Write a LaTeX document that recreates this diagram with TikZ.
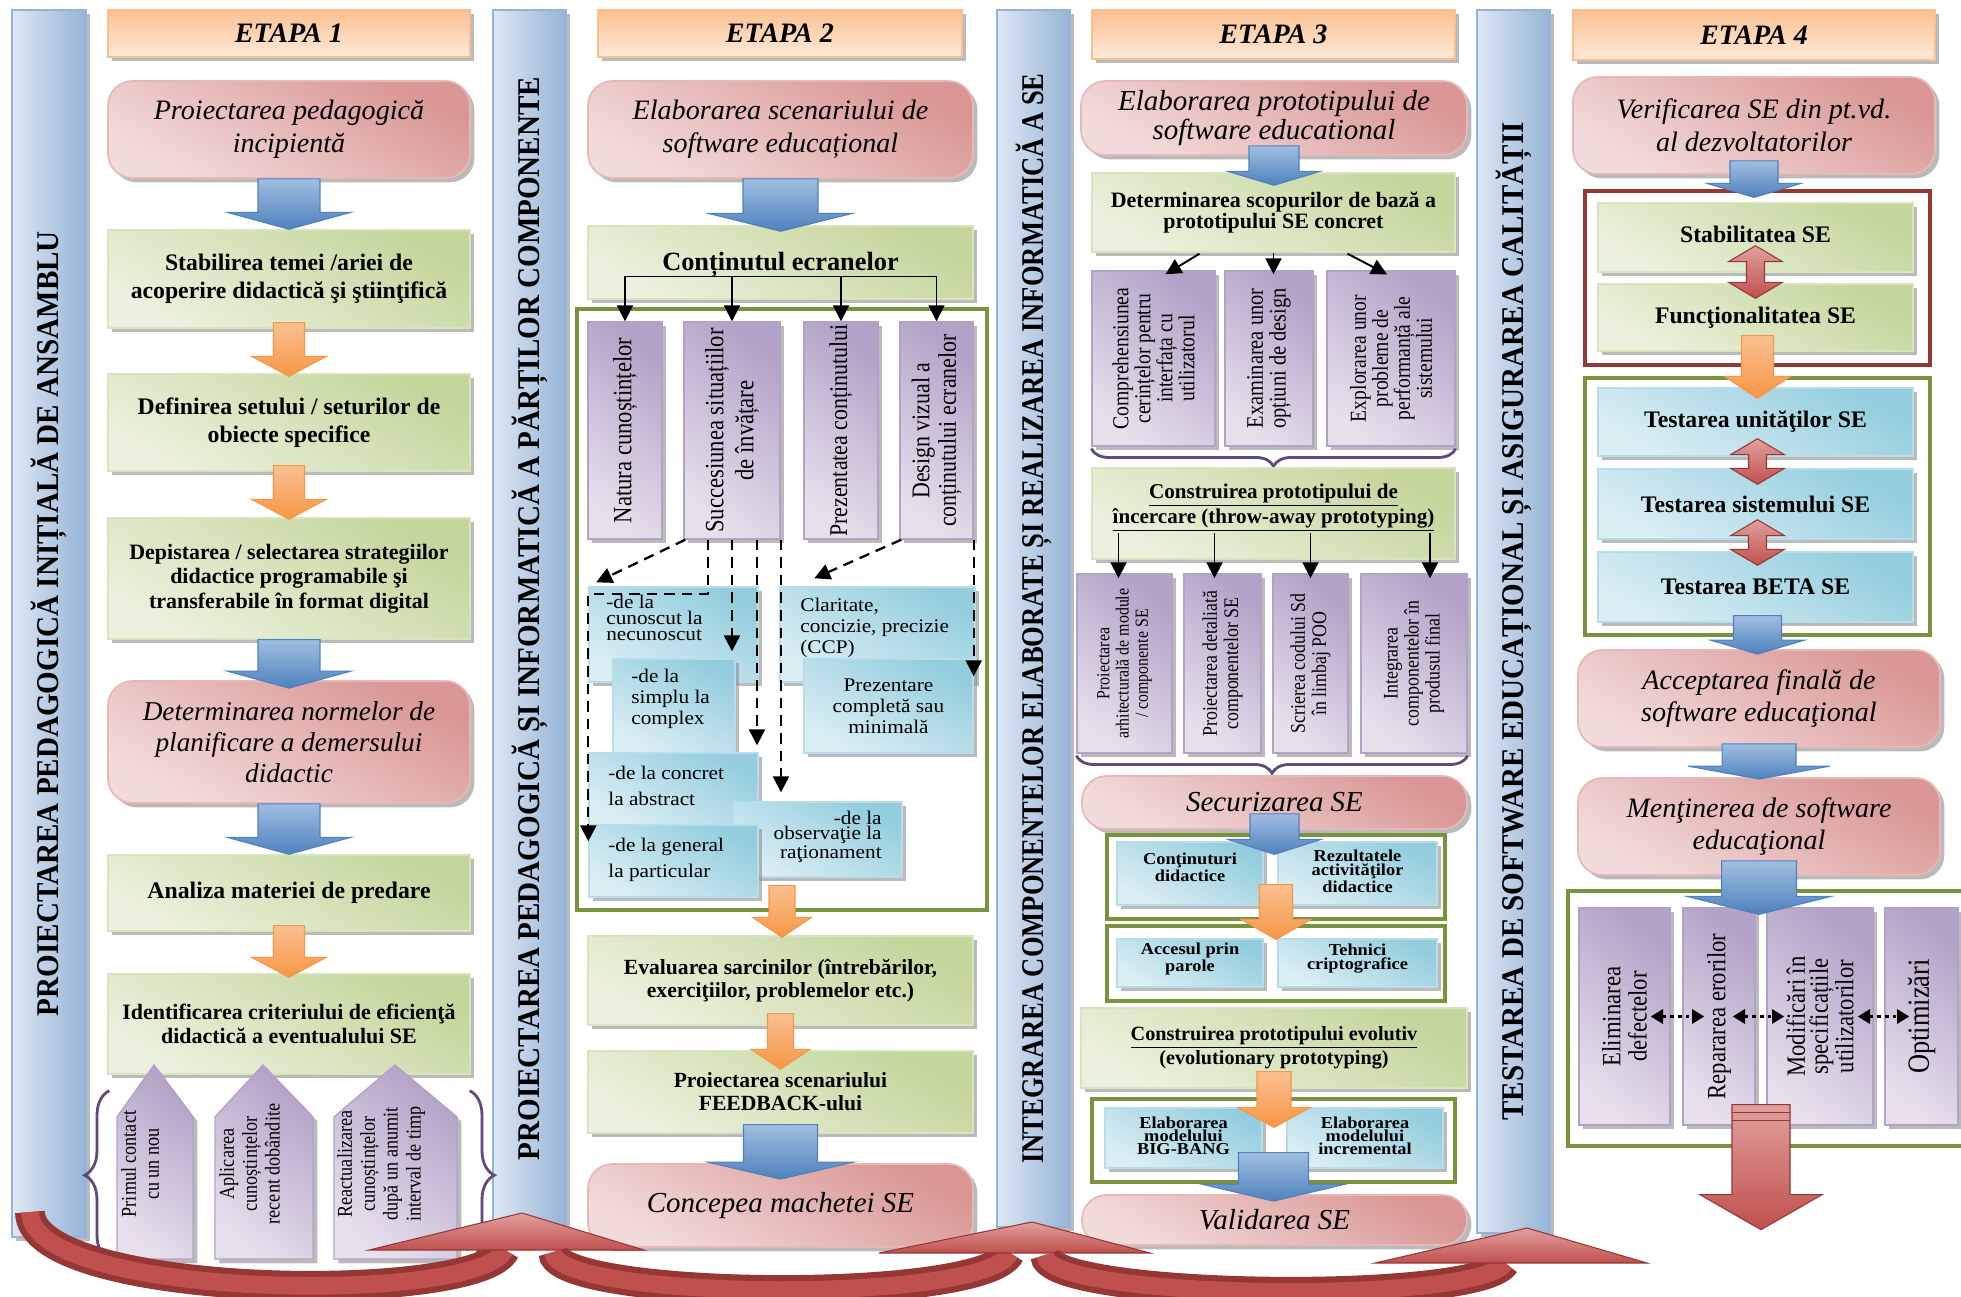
\documentclass[tikz,border=0pt]{standalone}
\usepackage{fontspec}
\usepackage{graphicx}
\setmainfont{Liberation Serif}
\newfontfamily\condfont[FakeStretch=0.86]{Liberation Serif}
\newfontfamily\widefont[FakeStretch=1.1]{Liberation Serif}
\usetikzlibrary{positioning,arrows.meta,calc,fit,shadows,decorations.pathreplacing}

\definecolor{barL}{RGB}{222,231,243}
\definecolor{barD}{RGB}{149,179,215}
\definecolor{etaL}{RGB}{253,234,218}
\definecolor{etaD}{RGB}{250,192,144}
\definecolor{etaB}{RGB}{250,191,143}
\definecolor{pinkL}{RGB}{242,220,219}
\definecolor{pinkD}{RGB}{217,150,148}
\definecolor{pinkB}{RGB}{230,185,184}
\definecolor{grL}{RGB}{235,241,222}
\definecolor{grD}{RGB}{195,214,155}
\definecolor{grB}{RGB}{215,228,189}
\definecolor{vioL}{RGB}{230,224,236}
\definecolor{vioD}{RGB}{179,162,199}
\definecolor{cyL}{RGB}{219,238,244}
\definecolor{cyD}{RGB}{147,205,221}
\definecolor{cyB}{RGB}{183,222,232}
\definecolor{frG}{RGB}{119,147,60}
\definecolor{frR}{RGB}{149,55,53}
\definecolor{bluA}{RGB}{79,129,189}
\definecolor{bluL}{RGB}{160,190,225}
\definecolor{orA}{RGB}{247,150,70}
\definecolor{orL}{RGB}{250,192,144}
\definecolor{redA}{RGB}{192,80,77}
\definecolor{redL}{RGB}{225,160,158}
\definecolor{redD}{RGB}{149,55,53}
\definecolor{braceC}{RGB}{96,74,123}

\newcommand{\pxu}{0.56906pt}
% fat block arrow: style, start, tip, half shaft, half head, head length (px)
\newcommand{\fatarrow}[6]{%
  \path[#1] let \p1=#2, \p2=#3 in
    (\x1-#4*\pxu,\y1) -- (\x1+#4*\pxu,\y1) -- (\x1+#4*\pxu,\y2+#6*\pxu)
    -- (\x1+#5*\pxu,\y2+#6*\pxu) -- (\x1,\y2) -- (\x1-#5*\pxu,\y2+#6*\pxu)
    -- (\x1-#4*\pxu,\y2+#6*\pxu) -- cycle;}
\newcommand{\fatdouble}[6]{%
  \path[#1] let \p1=#2, \p2=#3 in
    (\x1,\y1) -- (\x1+#5*\pxu,\y1-#6*\pxu) -- (\x1+#4*\pxu,\y1-#6*\pxu)
    -- (\x1+#4*\pxu,\y2+#6*\pxu) -- (\x1+#5*\pxu,\y2+#6*\pxu) -- (\x1,\y2)
    -- (\x1-#5*\pxu,\y2+#6*\pxu) -- (\x1-#4*\pxu,\y2+#6*\pxu)
    -- (\x1-#4*\pxu,\y1-#6*\pxu) -- (\x1-#5*\pxu,\y1-#6*\pxu) -- cycle;}

\tikzset{
  shad/.style={drop shadow={shadow xshift=2.5pt, shadow yshift=-2.5pt, fill=black!45, opacity=.6}},
  sidebar/.style={draw=barD, line width=0.8pt, left color=barL, right color=barD, inner sep=0pt, shad},
  bartext/.style={rotate=90, inner sep=0pt, font=\fontsize{18}{20}\selectfont\bfseries},
  etapa/.style={draw=etaB, line width=0.6pt, top color=etaD, bottom color=etaL, inner sep=0pt, shad},
  etalbl/.style={inner sep=0pt, font=\fontsize{16}{18}\selectfont\bfseries\itshape},
  pinkbox/.style={draw=pinkB, line width=1pt, rounded corners=14pt, top color=pinkD, bottom color=pinkL,
    shading angle=-30, inner sep=0pt, shad},
  pinklbl/.style={align=center, inner sep=0pt, font=\fontsize{16}{19}\selectfont\itshape},
  greenbox/.style={draw=grB, line width=0.8pt, top color=grD, bottom color=grL, shading angle=-30,
    inner sep=0pt, shad},
  greenlbl/.style={align=center, inner sep=0pt, font=\fontsize{13.5}{16}\selectfont\bfseries},
  violetbox/.style={draw=vioD, line width=0.8pt, top color=vioD, bottom color=vioL, shading angle=-40,
    inner sep=0pt, shad},
  cyanbox/.style={draw=cyB, line width=0.8pt, top color=cyD, bottom color=cyL, shading angle=-30,
    inner sep=0pt, shad},
  cyanlbl/.style={align=center, inner sep=0pt, font=\widefont\bfseries\fontsize{9.5}{#1}\selectfont},
  frame/.style={draw=frG, line width=1.8pt, inner sep=0pt},
  vtext/.style={rotate=90, align=center, inner sep=0pt},
  cyantext/.style={inner sep=0pt, font=\widefont\fontsize{11}{#1}\selectfont},
  conn/.style={line width=1.1pt, -{Triangle[length=9pt,width=9pt]}},
  dashconn/.style={line width=1.3pt, dash pattern=on 6pt off 4pt, -{Triangle[length=9pt,width=9pt]}},
  dotconn/.style={line width=1.8pt, dash pattern=on 2pt off 2.5pt,
    {Triangle[length=7pt,width=8pt]}-{Triangle[length=7pt,width=8pt]}},
  bluearr/.style={draw=bluA, line width=0.6pt, top color=bluL, bottom color=bluA},
  orangearr/.style={draw=orA, line width=0.6pt, top color=orL, bottom color=orA},
  redarr/.style={draw=redD, line width=0.6pt, top color=redL, bottom color=redA},
  curly/.style={draw=braceC, line width=1.6pt, decorate, decoration={brace, amplitude=#1}},
}

\begin{document}
\begin{tikzpicture}[x=0.02cm, y=-0.02cm]
\useasboundingbox (0,0) rectangle (1961,1297);

% phase bars
\node[sidebar, fit={(12,10) (86,1237)}] (sb1) {};
\node[sidebar, fit={(493,10) (566,1227)}] (sb2) {};
\node[sidebar, fit={(997,10) (1070,1227)}] (sb3) {};
\node[sidebar, fit={(1477,10) (1550,1233)}] (sb4) {};
\node[bartext] (bt1) at (sb1) {\scalebox{0.92}[1]{PROIECTAREA PEDAGOGICĂ INIȚIALĂ DE ANSAMBLU}};
\node[bartext] (bt2) at (sb2) {\scalebox{0.92}[1]{PROIECTAREA PEDAGOGICĂ ȘI INFORMATICĂ A PĂRȚILOR COMPONENTE}};
\node[bartext] (bt3) at (sb3) {\scalebox{0.84}[1]{INTEGRAREA COMPONENTELOR ELABORATE ȘI REALIZAREA INFORMATICĂ A SE}};
\node[bartext] (bt4) at (sb4) {\scalebox{0.92}[1]{TESTAREA DE SOFTWARE EDUCAȚIONAL ȘI ASIGURAREA CALITĂȚII}};

% ETAPA 1
\node[etapa, fit={(108,10) (470,57)}] (et1) {};
\node[etalbl] (et1t) at (et1) {ETAPA 1};
\node[pinkbox, fit={(108,81) (470,178)}] (p11) {};
\node[pinklbl] (p11t) at (p11) {Proiectarea pedagogică\\incipientă};
\node[greenbox, fit={(108,230) (470,328)}] (g11) {};
\node[greenlbl] (g11t) at (g11) {Stabilirea temei /ariei de\\acoperire didactică şi ştiinţifică};
\node[greenbox, fit={(108,374) (470,471)}] (g12) {};
\node[greenlbl] (g12t) at (g12) {Definirea setului / seturilor de\\obiecte specifice};
\node[greenbox, fit={(108,518) (470,639)}] (g13) {};
\node[greenlbl, font=\fontsize{12.5}{14}\selectfont\bfseries] (g13t) at (g13)
  {Depistarea / selectarea strategiilor\\didactice programabile şi\\transferabile în format digital};
\node[pinkbox, fit={(108,681) (470,803)}] (p12) {};
\node[pinklbl, font=\fontsize{15.5}{17.5}\selectfont\itshape] (p12t) at (p12)
  {Determinarea normelor de\\planificare a demersului\\didactic};
\node[greenbox, fit={(108,855) (470,931)}] (g14) {};
\node[greenlbl] (g14t) at (g14) {Analiza materiei de predare};
\node[greenbox, fit={(108,974) (470,1074)}] (g15) {};
\node[greenlbl, font=\fontsize{12.5}{14}\selectfont\bfseries] (g15t) at (g15)
  {Identificarea criteriului de eficienţă\\didactică a eventualului SE};
\path[violetbox] (117,1259) -- (117,1117) -- (154,1065) -- (193,1117) -- (193,1259) -- cycle;
\path[violetbox] (215,1259) -- (215,1117) -- (263,1065) -- (313,1117) -- (313,1259) -- cycle;
\path[violetbox] (334,1259) -- (334,1117) -- (395,1065) -- (457,1117) -- (457,1259) -- cycle;
\node[vtext, anchor=north, font=\condfont\fontsize{12}{13}\selectfont] (pt1) at (121,1164) {Primul contact\\cu un nou};
\node[vtext, anchor=north, font=\condfont\fontsize{12}{13}\selectfont] (pt2) at (219,1164) {Aplicarea\\cunoștințelor\\recent dobândite};
\node[vtext, anchor=north, font=\condfont\fontsize{12}{13}\selectfont] (pt3) at (337,1164) {Reactualizarea\\cunoștințelor\\după un anumit\\interval de timp};
\draw[curly=14pt] ($(g15.south west)+(2,185)$) -- ($(g15.south west)+(2,16)$);
\draw[curly=14pt] ($(g15.south east)+(-1,16)$) -- ($(g15.south east)+(-1,185)$);

% ETAPA 2
\node[etapa, fit={(598,10) (962,57)}] (et2) {};
\node[etalbl] (et2t) at (et2) {ETAPA 2};
\node[pinkbox, fit={(588,81) (973,178)}] (p21) {};
\node[pinklbl] (p21t) at (p21) {Elaborarea scenariului de\\software educațional};
\node[greenbox, fit={(588,226) (973,299)}] (g21) {};
\node[greenlbl, font=\fontsize{15}{17}\selectfont\bfseries] (g21t) at ($(g21)+(0,2)$) {Conținutul ecranelor};
\node[frame, fit={(577,309) (987,910)}] (fr21) {};
\node[violetbox, fit={(588,322) (662,539)}] (pu21) {};
\node[violetbox, fit={(684,322) (780,539)}] (pu22) {};
\node[violetbox, fit={(804,322) (878,539)}] (pu23) {};
\node[violetbox, fit={(900,322) (973,539)}] (pu24) {};
\node[vtext, font=\condfont\fontsize{15}{17}\selectfont] (t21) at (pu21) {Natura cunoștințelor};
\node[vtext, font=\condfont\fontsize{15}{17}\selectfont] (t22) at (pu22) {Succesiunea situațiilor\\de învățare};
\node[vtext, font=\condfont\fontsize{14.5}{17}\selectfont] (t23) at (pu23) {Prezentatea conținutului};
\node[vtext, font=\condfont\fontsize{14.5}{15}\selectfont] (t24) at (pu24) {Design vizual a\\conținutului ecranelor};
\node[cyanbox, fit={(589,587) (758,682)}] (c1) {};
\node[cyantext=9, anchor=north west, align=left] (tc1) at (606,595) {-de la\\cunoscut la\\necunoscut};
\node[cyanbox, fit={(780,587) (975,682)}] (c2) {};
\node[cyantext=12, anchor=north west, align=left] (tc2) at (800,598) {Claritate,\\concizie, precizie\\(CCP)};
\node[cyanbox, fit={(613,659) (735,753)}] (c3) {};
\node[cyantext=12, anchor=north west, align=left] (tc3) at (631,669) {-de la\\simplu la\\complex};
\node[cyanbox, fit={(804,659) (973,753)}] (c4) {};
\node[cyantext=12, align=center] (tc4) at (c4) {Prezentare\\completă sau\\minimală};
\node[cyanbox, fit={(589,753) (758,825)}] (c5) {};
\node[cyantext=14.7, anchor=north west, align=left] (tc5) at (608,766) {-de la concret\\la abstract};
\node[cyanbox, fit={(733,802) (902,877)}] (c6) {};
\node[cyantext=8.5, anchor=north east, align=right] (tc6) at (882,811) {-de la\\observaţie la\\raţionament};
\node[cyanbox, fit={(589,825) (758,897)}] (c7) {};
\node[cyantext=14.7, anchor=north west, align=left] (tc7) at (608,838) {-de la general\\la particular};
\node[greenbox, fit={(588,936) (973,1025)}] (g22) {};
\node[greenlbl, font=\fontsize{12.3}{13}\selectfont\bfseries] (g22t) at (g22)
  {Evaluarea sarcinilor (întrebărilor,\\exerciţiilor, problemelor etc.)};
\node[greenbox, fit={(588,1051) (973,1133)}] (g23) {};
\node[greenlbl, font=\fontsize{12.3}{13}\selectfont\bfseries] (g23t) at (g23) {Proiectarea scenariului\\FEEDBACK-ului};
\node[pinkbox, fit={(588,1164) (973,1247)}] (p22) {};
\node[pinklbl, font=\fontsize{16.5}{19}\selectfont\itshape] (p22t) at (p22) {Concepea machetei SE};

\coordinate (brl) at ($(g21.center)+(0,14)$);
\draw[line width=1.1pt] (brl -| pu21) -- (brl -| pu24);
\foreach \n in {pu21,pu22,pu23,pu24}
  \draw[conn] (brl -| \n) -- (\n.north);
\draw[dashconn] ($(pu22.south west)+(2,0)$) -- ($(c1.north west)+(8,-4)$);
\draw[dashconn] ($(pu22.south)+(-24,0)$) |- ($(c1.north west)+(0,8)$) -- ($(c7.north west)+(0,17)$);
\draw[dashconn] (pu22.south) -- ($(pu22.south |- c3.north)+(0,-7)$);
\draw[dashconn] ($(pu22.south)+(25,0)$) -- ($(pu22.south |- c5.north)+(25,-7)$);
\draw[dashconn] ($(pu22.south)+(49,0)$) -- ($(pu22.south |- c6.north)+(49,-9)$);
\draw[dashconn] ($(pu24.south west)+(2,0)$) -- ($(c2.north west)+(35,-8)$);
\draw[dashconn] (pu24.south east) -- ($(pu24.south east |- c4.north)+(0,18)$);

% ETAPA 3
\node[etapa, fit={(1092,10) (1455,59)}] (et3) {};
\node[etalbl] (et3t) at (et3) {ETAPA 3};
\node[pinkbox, fit={(1081,81) (1467,155)}] (p31) {};
\node[pinklbl, font=\fontsize{16.5}{13}\selectfont\itshape] (p31t) at (p31) {Elaborarea prototipului de\\software educational};
\node[greenbox, fit={(1092,173) (1455,252)}] (g31) {};
\node[greenlbl, font=\fontsize{12.5}{9.5}\selectfont\bfseries] (g31t) at (g31)
  {Determinarea scopurilor de bază a\\prototipului SE concret};
\node[violetbox, fit={(1092,271) (1215,446)}] (pu31) {};
\node[violetbox, fit={(1225,271) (1313,446)}] (pu32) {};
\node[violetbox, fit={(1327,271) (1455,446)}] (pu33) {};
\node[vtext, font=\condfont\fontsize{13}{12.5}\selectfont] (t31) at (pu31) {Comprehensiunea\\cerințelor pentru\\interfața cu\\utilizatorul};
\node[vtext, font=\condfont\fontsize{13.5}{13}\selectfont] (t32) at (pu32) {Examinarea unor\\opțiuni de design};
\node[vtext, font=\condfont\fontsize{13}{12.5}\selectfont] (t33) at (pu33) {Explorarea unor\\probleme de\\performanță ale\\sistemului};
\draw[conn] ($(g31.south)+(-74,1)$) -- ($(pu31.north)+(12,4)$);
\draw[conn] (g31.south) -- ($(g31.south |- pu32.north)+(0,4)$);
\draw[conn] ($(g31.south)+(74,1)$) -- ($(pu33.north)+(-4,4)$);
\draw[curly=10pt] ($(pu33.south east)+(0,2)$) -- ($(pu31.south west)+(0,2)$);
\node[greenbox, fit={(1092,468) (1455,559)}] (g32) {};
\node[greenlbl, font=\fontsize{12}{12}\selectfont\bfseries] (g32t) at ($(g32)+(0,-6)$)
  {\underline{Construirea prototipului de}\\\underline{încercare (throw-away prototyping)}};
\node[violetbox, fit={(1077,574) (1172,753)}] (pu41) {};
\node[violetbox, fit={(1184,574) (1261,753)}] (pu42) {};
\node[violetbox, fit={(1273,574) (1348,753)}] (pu43) {};
\node[violetbox, fit={(1361,574) (1467,753)}] (pu44) {};
\node[vtext, font=\condfont\fontsize{10.5}{11}\selectfont] (t41) at (pu41) {Proiectarea\\arhitecturală de module\\/ componente SE};
\node[vtext, font=\condfont\fontsize{11.8}{12}\selectfont] (t42) at (pu42) {Proiectarea detaliată\\componentelor SE};
\node[vtext, font=\condfont\fontsize{11.8}{12}\selectfont] (t43) at (pu43) {Scrierea codului Sd\\în limbaj POO};
\node[vtext, font=\condfont\fontsize{11.8}{12}\selectfont] (t44) at (pu44) {Integrarea\\componentelor în\\produsul final};
\coordinate (tp) at ($(g32.south)+(0,-27)$);
\draw[conn] ($(tp -| pu41)+(-6,0)$) -- ($(pu41.north)+(-6,5)$);
\draw[conn] ($(tp -| pu42)+(-8,0)$) -- ($(pu42.north)+(-8,5)$);
\draw[conn] (tp -| pu43) -- ($(pu43.north)+(0,5)$);
\draw[conn] ($(tp -| pu44)+(16,0)$) -- ($(pu44.north)+(16,5)$);
\draw[curly=10pt] ($(pu44.south east)+(0,2)$) -- ($(pu41.south west)+(0,2)$);
\node[pinkbox, fit={(1082,776) (1467,829)}] (p32) {};
\node[pinklbl, font=\fontsize{16.5}{19}\selectfont\itshape] (p32t) at (p32) {Securizarea SE};
\node[frame, fit={(1107,835) (1445,919)}] (fr31) {};
\node[cyanbox, fit={(1117,842) (1263,905)}] (cy31) {};
\node[cyanlbl=8] (cy31t) at ($(cy31)+(0,-6)$) {Conţinuturi\\didactice};
\node[cyanbox, fit={(1278,842) (1437,905)}] (cy32) {};
\node[cyanlbl=8] (cy32t) at ($(cy32)+(0,-2)$) {Rezultatele\\activităţilor\\didactice};
\node[frame, fit={(1107,926) (1445,1001)}] (fr32) {};
\node[cyanbox, fit={(1117,939) (1263,987)}] (cy33) {};
\node[cyanlbl=8] (cy33t) at ($(cy33)+(0,-4)$) {Accesul prin\\parole};
\node[cyanbox, fit={(1278,939) (1437,987)}] (cy34) {};
\node[cyanlbl=8] (cy34t) at ($(cy34)+(0,-4)$) {Tehnici\\criptografice};
\node[greenbox, fit={(1081,1008) (1467,1088)}] (g33) {};
\node[greenlbl, font=\fontsize{11.5}{12}\selectfont\bfseries] (g33t) at (g33)
  {\underline{Construirea prototipului evolutiv}\\(evolutionary prototyping)};
\node[frame, fit={(1092,1099) (1455,1182)}] (fr33) {};
\node[cyanbox, fit={(1105,1108) (1262,1168)}] (cy35) {};
\node[cyanlbl=7.5] (cy35t) at ($(cy35)+(0,-2)$) {Elaborarea\\modelului\\BIG-BANG};
\node[cyanbox, fit={(1287,1108) (1443,1168)}] (cy36) {};
\node[cyanlbl=7.5] (cy36t) at ($(cy36)+(0,-2)$) {Elaborarea\\modelului\\incremental};
\node[pinkbox, fit={(1082,1195) (1467,1245)}] (p33) {};
\node[pinklbl, font=\fontsize{16.5}{19}\selectfont\itshape] (p33t) at (p33) {Validarea SE};

% ETAPA 4
\node[etapa, fit={(1573,10) (1935,60)}] (et4) {};
\node[etalbl] (et4t) at (et4) {ETAPA 4};
\node[pinkbox, fit={(1573,77) (1935,174)}] (p41) {};
\node[pinklbl] (p41t) at (p41) {Verificarea SE din pt.vd.\\al dezvoltatorilor};
\node[frame, draw=frR, fit={(1585,191) (1930,365)}] (fr41) {};
\node[greenbox, fit={(1598,203) (1913,272)}] (g41) {};
\node[greenlbl] (g41t) at ($(g41)+(0,-3)$) {Stabilitatea SE};
\node[greenbox, fit={(1598,284) (1913,351)}] (g42) {};
\node[greenlbl] (g42t) at (g42) {Funcţionalitatea SE};
\node[frame, fit={(1585,378) (1930,635)}] (fr42) {};
\node[cyanbox, fit={(1598,388) (1913,456)}] (cy41) {};
\node[greenlbl] (cy41t) at (cy41) {Testarea unităţilor SE};
\node[cyanbox, fit={(1598,469) (1913,539)}] (cy42) {};
\node[greenlbl] (cy42t) at (cy42) {Testarea sistemului SE};
\node[cyanbox, fit={(1598,552) (1913,622)}] (cy43) {};
\node[greenlbl] (cy43t) at (cy43) {Testarea BETA SE};
\node[pinkbox, fit={(1578,650) (1940,747)}] (p42) {};
\node[pinklbl, font=\fontsize{16}{18.5}\selectfont\itshape] (p42t) at (p42) {Acceptarea finală de\\software educaţional};
\node[pinkbox, fit={(1578,778) (1940,875)}] (p43) {};
\node[pinklbl, font=\fontsize{16}{18.5}\selectfont\itshape] (p43t) at (p43) {Menţinerea de software\\educaţional};
\node[frame, fit={(1568,891) (1990,1146)}] (fr43) {};
\node[violetbox, fit={(1579,908) (1670,1125)}] (pu51) {};
\node[violetbox, fit={(1683,908) (1755,1125)}] (pu52) {};
\node[violetbox, fit={(1767,908) (1873,1125)}] (pu53) {};
\node[violetbox, fit={(1885,908) (1958,1125)}] (pu54) {};
\node[vtext, font=\condfont\fontsize{15}{15}\selectfont] (t51) at (pu51) {Eliminarea\\defectelor};
\node[vtext, font=\condfont\fontsize{15}{15}\selectfont] (t52) at (pu52) {Repararea erorilor};
\node[vtext, font=\condfont\fontsize{15}{13}\selectfont] (t53) at (pu53) {Modificări în\\specificațiile\\utilizatorilor};
\node[vtext, font=\condfont\fontsize{17.5}{18}\selectfont] (t54) at (pu54) {Optimizări};
\draw[dotconn] ($(pu51.east)+(-20,0)$) -- ($(pu52.west)+(22,0)$);
\draw[dotconn] ($(pu52.east)+(-23,0)$) -- ($(pu53.west)+(18,0)$);
\draw[dotconn] ($(pu53.east)+(-16,0)$) -- ($(pu54.west)+(25,0)$);

% block arrows
\fatarrow{bluearr}{(p11.south)}{(g11.north)}{31}{62}{17}
\fatarrow{orangearr}{($(g11.south)+(0,-6)$)}{($(g12.north)+(0,3)$)}{15.5}{37.5}{20}
\fatarrow{orangearr}{($(g12.south)+(0,-6)$)}{($(g13.north)+(0,2)$)}{15.5}{37.5}{20}
\fatarrow{bluearr}{(g13.south)}{($(p12.north)+(0,8)$)}{31}{62}{17}
\fatarrow{bluearr}{(p12.south)}{(g14.north)}{31}{62}{17}
\fatarrow{orangearr}{($(g14.south)+(0,-6)$)}{($(g15.north)+(0,4)$)}{15.5}{37.5}{20}

\fatarrow{bluearr}{(p21.south)}{($(g21.north)+(0,6)$)}{37.5}{72.5}{18}
\fatarrow{orangearr}{($(fr21.south)+(0,-26)$)}{($(g22.north)+(0,2)$)}{13}{29.5}{20}
\fatarrow{orangearr}{($(g22.south)+(0,-12)$)}{($(g23.north)+(0,19)$)}{13}{29.5}{20}
\fatarrow{bluearr}{($(g23.south)+(0,-9)$)}{($(p22.north)+(0,16)$)}{37}{73}{17}

\fatarrow{bluearr}{($(p31.south)+(0,-10)$)}{($(g31.north)+(0,13)$)}{25}{46.5}{14}
\fatarrow{bluearr}{($(p32.south)+(0,-16)$)}{($(fr31.north)+(0,21)$)}{24.5}{46.5}{15}
\fatarrow{orangearr}{($(fr31.south)+(0,-36)$)}{($(fr32.north)+(0,15)$)}{16.5}{35}{20}
\fatarrow{orangearr}{($(g33.south)+(0,-17)$)}{($(fr33.north)+(0,30)$)}{17}{36.5}{20}
\fatarrow{bluearr}{($(fr33.south)+(0,-31)$)}{($(p33.north)+(0,7)$)}{35}{72}{17}

\fatarrow{bluearr}{($(p41.south)+(0,-14)$)}{($(fr41.north)+(0,8)$)}{24}{47}{14}
\fatdouble{redarr}{($(g41.south)+(0,-27)$)}{($(g42.north)+(0,15)$)}{9}{27}{16}
\fatarrow{orangearr}{($(fr41.south)+(0,-31)$)}{($(fr42.north)+(0,22)$)}{16}{33}{22}
\fatdouble{redarr}{($(cy41.south)+(2,-18)$)}{($(cy42.north)+(2,16)$)}{9}{27}{16}
\fatdouble{redarr}{($(cy42.south)+(2,-20)$)}{($(cy43.north)+(2,14)$)}{9}{27}{16}
\fatarrow{bluearr}{($(fr42.south)+(0,-21)$)}{($(p42.north)+(0,5)$)}{24}{47}{14}
\fatarrow{bluearr}{($(p42.south)+(0,-4)$)}{($(p43.north)+(0,2)$)}{37}{71}{13}
\fatarrow{bluearr}{($(p43.south)+(0,-15)$)}{($(fr43.north)+(0,25)$)}{37.5}{72}{18}
\coordinate (outtop) at ($(pu52.south east)!.5!(pu53.south west)+(0,-21)$);
\coordinate (outtip) at ($(outtop)+(0,125)$);
\fatarrow{redarr}{(outtop)}{(outtip)}{29}{61}{35}
\draw[redD, line width=0.8pt] ($(outtop)+(-29,8)$) -- ($(outtop)+(29,8)$);
\draw[redD, line width=0.8pt] ($(outtop)+(-29,16)$) -- ($(outtop)+(29,16)$);

% return arrows along the bottom
\foreach \sx/\sy/\ex/\ey/\hl/\hr/\tx/\ty in {30/1212/505/1250/369/644/522/1213,
    553/1252/1010/1253/879/1150/1032/1222, 1045/1255/1505/1263/1375/1647/1527/1228} {
  \draw[redD, line width=17pt] (\sx,\sy) .. controls (\sx,1300) and (\ex-25,1305) .. (\ex,\ey);
  \draw[redA, line width=10pt] (\sx,\sy) .. controls (\sx,1300) and (\ex-25,1305) .. (\ex,\ey);
  \path[redarr] (\hl,\ey) -- (\hr,\ey) -- (\tx,\ty) -- cycle;
}
\end{tikzpicture}
\end{document}
